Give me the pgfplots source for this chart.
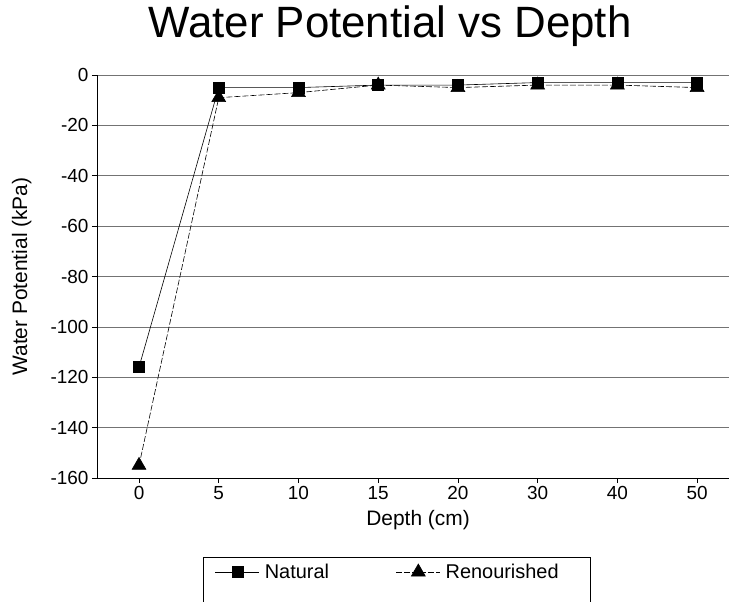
\documentclass[border=0pt]{standalone}
\usepackage{fontspec}
\setmainfont{Liberation Sans}
\usepackage{pgfplots}
\pgfplotsset{compat=1.18}
\begin{document}
\begin{tikzpicture}
\begin{axis}[
  at={(0,0)}, anchor=south west,
  scale only axis,
  width=632bp, height=403bp,
  xmin=-0.527, xmax=7.40,
  ymin=-160, ymax=0,
  axis lines=left,
  axis line style={-, line width=0.8bp},
  xtick={0,...,7},
  xticklabels={0,5,10,15,20,30,40,50},
  ytick={-160,-140,...,0},
  tick align=outside,
  major tick length=5bp,
  tick style={black, line width=0.6bp},
  ymajorgrids,
  grid style={black!55, line width=0.5bp},
  ticklabel style={font=\fontsize{19}{19}\selectfont},
  /pgf/number format/assume math mode=true,
  xlabel={Depth (cm)},
  ylabel={Water Potential (kPa)},
  label style={font=\fontsize{21}{21}\selectfont},
  xlabel style={at={(axis description cs:0.508,-0.104)}, anchor=center},
  ylabel style={at={(axis description cs:-0.119,0.5)}, anchor=center},
  title={Water Potential vs Depth},
  title style={at={(axis description cs:0.4636,1.107)}, anchor=center, font=\fontsize{44}{44}\selectfont},
  legend columns=2,
  legend style={draw=none, fill=none, at={(axis description cs:0.1867,-0.2333)}, anchor=west,
    inner sep=0pt, font=\fontsize{20}{20}\selectfont,
    nodes={inner xsep=5bp},
    /tikz/every even column/.append style={column sep=62bp}},
  legend image code/.code={\draw[mark repeat=2,mark phase=2,#1] plot coordinates {(0bp,0bp) (22bp,0bp) (44bp,0bp)};},
]
% Natural
\addplot[black, line width=0.6bp, mark=square*, mark size=5.5bp, mark options={solid}]
  coordinates {(0,-116) (1,-5) (2,-5) (3,-4) (4,-4) (5,-3) (6,-3) (7,-3)};
% Renourished
\addplot[black, line width=0.6bp, dash pattern=on 6bp off 2bp, mark=triangle*, mark size=8bp, mark options={solid}]
  coordinates {(0,-155) (1,-9) (2,-7) (3,-4) (4,-5) (5,-4) (6,-4) (7,-5)};
\legend{Natural, Renourished}
\end{axis}
\draw[line width=0.6bp] (106bp,-79bp) rectangle (493bp,-140bp);
\pgfresetboundingbox
\useasboundingbox (-97bp,-124bp) rectangle (632bp,478bp);
\end{tikzpicture}
\end{document}
